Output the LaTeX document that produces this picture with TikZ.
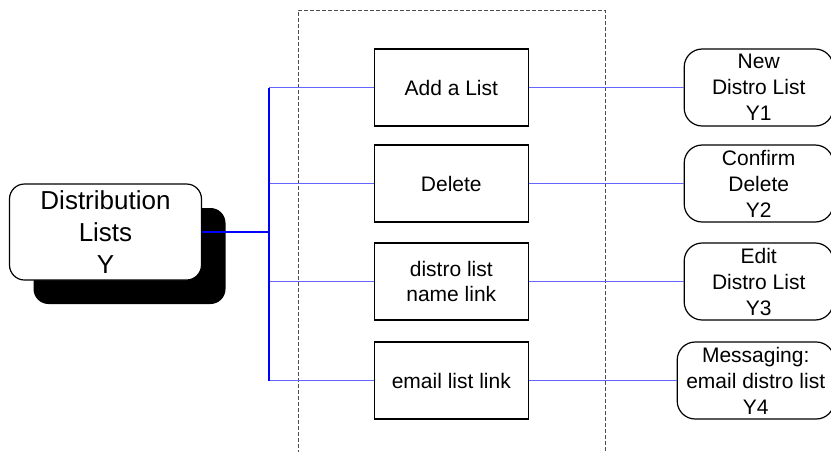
\documentclass[tikz,border=0pt]{standalone}
\usepackage{fontspec}
\setmainfont{Liberation Sans}
\usetikzlibrary{positioning}
\definecolor{linkblue}{RGB}{100,100,255}
\tikzset{
	action/.style={draw, line width=1.2pt, minimum width=154pt, minimum height=77pt,
		align=center, inner sep=0pt, font=\fontsize{21}{25}\selectfont},
	screen/.style={draw, line width=1.2pt, rounded corners=18pt, minimum width=149pt,
		minimum height=77pt, align=center, inner sep=0pt, fill=white,
		font=\fontsize{21}{26}\selectfont},
	link/.style={draw=linkblue, line width=1.2pt},
	trunk/.style={draw=blue, line width=1.6pt}
}
\begin{document}
\begin{tikzpicture}[x=1pt,y=-1pt]
		\useasboundingbox (0,0) rectangle (831,451);
		%page boundary
			\draw[gray!60!black, line width=0.8pt, dash pattern=on 4pt off 2pt]
				(298,460) -- (298,10) -- (605,10) -- (605,460);
		%main screen
			\fill[black, rounded corners=15pt] (33.5,208) rectangle (225.5,304);
			\node[draw, line width=1.2pt, rounded corners=15pt, fill=white,
				minimum width=192pt, minimum height=96pt, align=center, inner sep=0pt,
				font=\fontsize{26}{32}\selectfont]
				(lists) at (105.5,232) {Distribution\\Lists\\Y};
		% actions
			\node[action] (add) at (451.3,87.5) {Add a List};
			\node[action] (delete) at (451.3,183.5) {Delete};
			\node[action] (name) at (451.3,281.5) {distro list\\name link};
			\node[action] (email) at (451.3,380.5) {email list link};
		% target screens
			\node[screen, right=154.7pt of add] (new) {New\\Distro List\\Y1};
			\node[screen, right=154.7pt of delete] (confirm) {Confirm\\Delete\\Y2};
			\node[screen, right=154.7pt of name] (edit) {Edit\\Distro List\\Y3};
			\node[screen, minimum width=157pt, right=147.7pt of email] (messaging)
				{Messaging:\\email distro list\\Y4};
		% links
			\coordinate (bus) at (269,232.5);
			\draw[trunk] (lists.east) -- (bus |- lists.east);
			\draw[link] (bus |- add.west) -- (add.west);
			\draw[link] (add.east) -- (new.west);
			\draw[link] (bus |- delete.west) -- (delete.west);
			\draw[link] (delete.east) -- (confirm.west);
			\draw[link] (bus |- name.west) -- (name.west);
			\draw[link] (name.east) -- (edit.west);
			\draw[link] (bus |- email.west) -- (email.west);
			\draw[link] (email.east) -- (messaging.west);
			\draw[trunk, line width=1.2pt] (bus |- add.west) -- (bus |- email.west);
	\end{tikzpicture}
\end{document}
